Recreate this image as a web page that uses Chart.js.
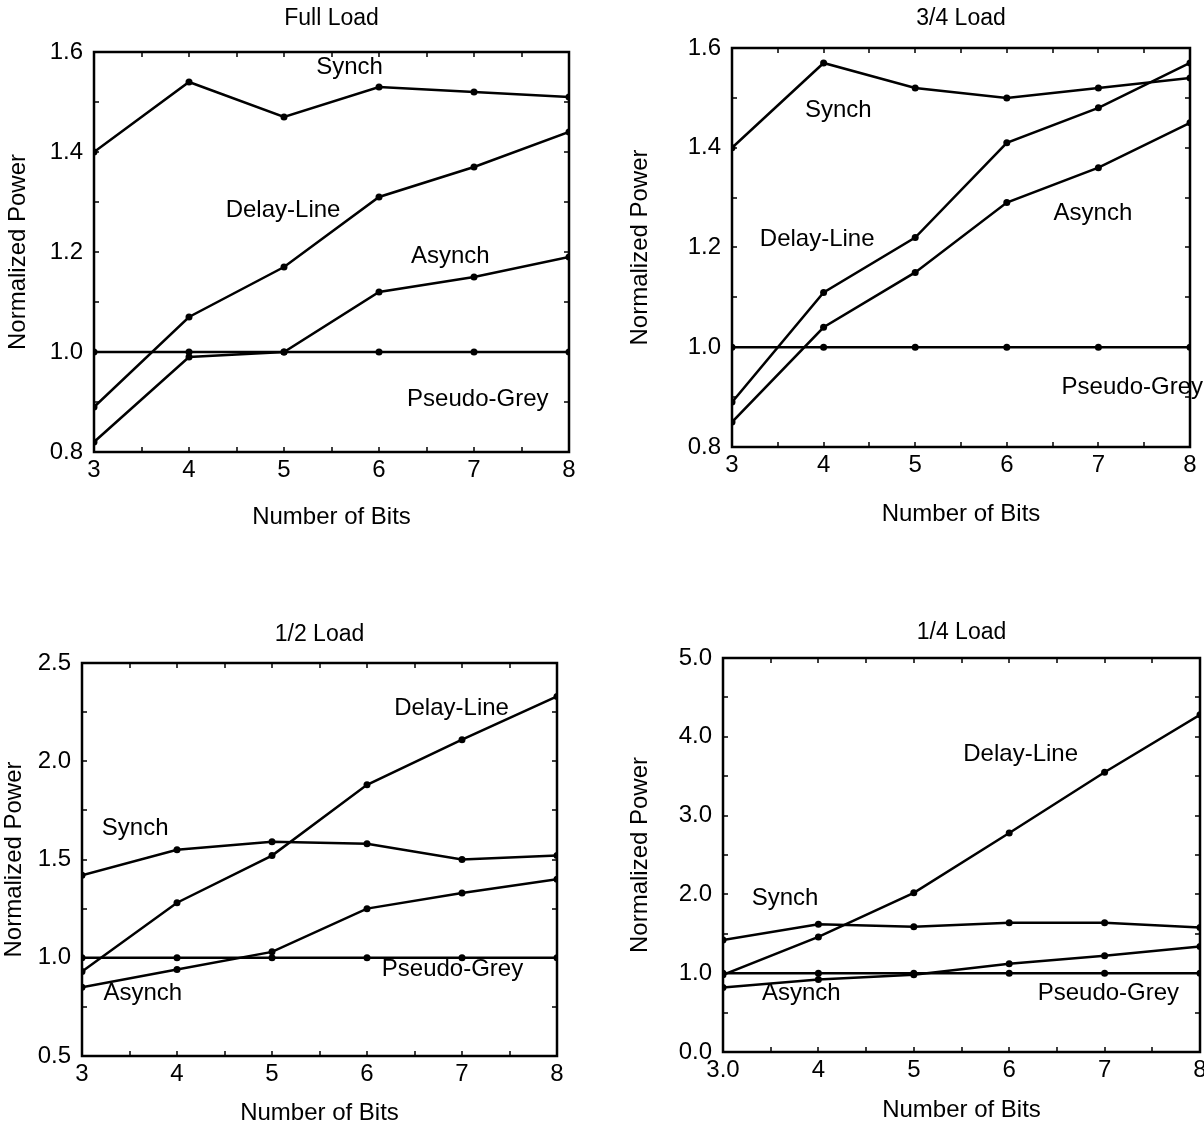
<!DOCTYPE html>
<html>
<head>
<meta charset="utf-8">
<title>Normalized Power vs Number of Bits</title>
<script src="https://cdn.jsdelivr.net/npm/chart.js@4.4.1/dist/chart.umd.min.js"></script>
<style>
  html, body { margin: 0; padding: 0; background: #fff; overflow: hidden; width: 1204px; height: 1129px; }
  canvas { position: absolute; }
</style>
</head>
<body>
<canvas id="fullLoad" width="600" height="560" style="left:0;top:0"></canvas>
<canvas id="threeQuarterLoad" width="602" height="560" style="left:602px;top:0"></canvas>
<canvas id="halfLoad" width="600" height="529" style="left:0;top:600px"></canvas>
<canvas id="quarterLoad" width="620" height="529" style="left:602px;top:600px"></canvas>
<script>
// x values (number of bits) shared by every panel
const bits = [3, 4, 5, 6, 7, 8];
const seriesNames = ['Synch', 'Delay-Line', 'Asynch', 'Pseudo-Grey'];
const xTickLabels = ['3', '4', '5', '6', '7', '8'];
const xTickLabelsQuarter = ['3.0', '4', '5', '6', '7', '8'];

// Full Load
const fullSynch  = [1.40, 1.54, 1.47, 1.53, 1.52, 1.51];
const fullDelay  = [0.89, 1.07, 1.17, 1.31, 1.37, 1.44];
const fullAsynch = [0.82, 0.99, 1.00, 1.12, 1.15, 1.19];
const fullGrey   = [1.00, 1.00, 1.00, 1.00, 1.00, 1.00];
const fullYTicks = [0.8, 1.0, 1.2, 1.4, 1.6];

// 3/4 Load
const tqSynch  = [1.40, 1.57, 1.52, 1.50, 1.52, 1.54];
const tqDelay  = [0.89, 1.11, 1.22, 1.41, 1.48, 1.57];
const tqAsynch = [0.85, 1.04, 1.15, 1.29, 1.36, 1.45];
const tqGrey   = [1.00, 1.00, 1.00, 1.00, 1.00, 1.00];
const tqYTicks = [0.8, 1.0, 1.2, 1.4, 1.6];

// 1/2 Load
const halfSynch  = [1.42, 1.55, 1.59, 1.58, 1.50, 1.52];
const halfDelay  = [0.93, 1.28, 1.52, 1.88, 2.11, 2.33];
const halfAsynch = [0.85, 0.94, 1.03, 1.25, 1.33, 1.40];
const halfGrey   = [1.00, 1.00, 1.00, 1.00, 1.00, 1.00];
const halfYTicks = [0.5, 1.0, 1.5, 2.0, 2.5];

// 1/4 Load
const qSynch  = [1.42, 1.62, 1.59, 1.64, 1.64, 1.58];
const qDelay  = [0.98, 1.46, 2.02, 2.78, 3.55, 4.28];
const qAsynch = [0.82, 0.92, 0.98, 1.12, 1.22, 1.34];
const qGrey   = [1.00, 1.00, 1.00, 1.00, 1.00, 1.00];
const qYTicks = [0.0, 1.0, 2.0, 3.0, 4.0, 5.0];

// where each curve name sits, in data units (same order as seriesNames)
const fullLabelAt = [[5.69, 1.57], [4.99, 1.284], [6.75, 1.192], [7.04, 0.906]];
const tqLabelAt   = [[4.16, 1.474], [3.93, 1.217], [6.94, 1.269], [7.37, 0.919]];
const halfLabelAt = [[3.56, 1.66], [6.89, 2.27], [3.64, 0.82], [6.9, 0.94]];
const qLabelAt    = [[3.65, 1.95], [6.12, 3.78], [3.82, 0.75], [7.04, 0.75]];

Chart.defaults.font.family = "'Liberation Sans', Arial, Helvetica, sans-serif";
Chart.defaults.color = '#000';

// box around the plot + small inward ticks on all four sides
const framePlugin = {
    id: 'frame',
    afterDraw(chart, args, opts) {
        const { ctx, chartArea: a, scales: { x, y } } = chart;
        ctx.save();
        ctx.strokeStyle = '#000';
        ctx.lineWidth = 2.5;
        ctx.strokeRect(a.left, a.top, a.right - a.left, a.bottom - a.top);
        ctx.lineWidth = 1.5;
        ctx.beginPath();
        for (let v = y.min; v <= y.max + 1e-9; v += opts.yStep) {
            const py = Math.round(y.getPixelForValue(v));
            ctx.moveTo(a.left, py); ctx.lineTo(a.left + 5, py);
            ctx.moveTo(a.right, py); ctx.lineTo(a.right - 5, py);
        }
        for (let v = x.min; v <= x.max + 1e-9; v += opts.xStep) {
            const px = Math.round(x.getPixelForValue(v));
            ctx.moveTo(px, a.bottom); ctx.lineTo(px, a.bottom - 5);
            ctx.moveTo(px, a.top); ctx.lineTo(px, a.top + 5);
        }
        ctx.stroke();
        ctx.restore();
    }
};

// curve names written inside the plot
const curveLabelPlugin = {
    id: 'curveLabels',
    afterDatasetsDraw(chart, args, opts) {
        const { ctx, scales: { x, y } } = chart;
        ctx.save();
        ctx.fillStyle = '#000';
        ctx.font = "24px 'Liberation Sans', Arial, sans-serif";
        ctx.textAlign = 'center';
        ctx.textBaseline = 'middle';
        opts.names.forEach((name, i) => {
            const [vx, vy] = opts.at[i];
            ctx.fillText(name, x.getPixelForValue(vx), y.getPixelForValue(vy));
        });
        ctx.restore();
    }
};

function makePanel(id, p) {
    const series = [p.synch, p.delay, p.asynch, p.grey];
    new Chart(document.getElementById(id), {
        type: 'line',
        data: {
            datasets: series.map((vals, i) => ({
                label: seriesNames[i],
                data: bits.map((b, j) => ({ x: b, y: vals[j] })),
                borderColor: '#000', backgroundColor: '#000',
                borderWidth: 2.5, pointRadius: 3.5, pointBorderWidth: 0,
                tension: 0, fill: false
            }))
        },
        options: {
            responsive: false, animation: false, devicePixelRatio: 1,
            layout: { padding: { left: 0, right: p.padRight, top: 0, bottom: 0 } },
            plugins: {
                legend: { display: false },
                tooltip: { enabled: false },
                frame: { yStep: p.yMinor, xStep: 0.5 },
                curveLabels: { names: seriesNames, at: p.labelAt }
            },
            scales: {
                // top axis only carries the panel title, centred over the plot
                top: {
                    type: 'linear', position: 'top', min: 3, max: 8,
                    afterFit: s => { s.height = p.top; },
                    grid: { display: false }, border: { display: false },
                    ticks: { display: false },
                    title: { display: true, text: p.title, font: { size: 23 }, color: '#000', padding: { top: p.titleTop, bottom: 0 } }
                },
                x: {
                    type: 'linear', min: 3, max: 8,
                    afterBuildTicks: s => { s.ticks = bits.map(v => ({ value: v })); },
                    afterFit: s => { s.height = p.xh; },
                    grid: { display: false }, border: { display: false },
                    ticks: { font: { size: 24 }, color: '#000', padding: -4, maxRotation: 0,
                             callback: (v, i) => p.xLabels[i] },
                    title: { display: true, text: 'Number of Bits', font: { size: 24 }, color: '#000', padding: { top: 0, bottom: p.xTitleBottom } }
                },
                y: {
                    type: 'linear', min: p.yTicks[0], max: p.yTicks[p.yTicks.length - 1],
                    afterBuildTicks: s => { s.ticks = p.yTicks.map(v => ({ value: v })); },
                    afterFit: s => { s.width = p.yw; },
                    grid: { display: false }, border: { display: false },
                    ticks: { font: { size: 24 }, color: '#000', padding: 3,
                             callback: v => v.toFixed(1) },
                    title: { display: true, text: 'Normalized Power', font: { size: 24 }, color: '#000', padding: { top: p.yTitleTop, bottom: 0 } }
                }
            }
        },
        plugins: [framePlugin, curveLabelPlugin]
    });
}

makePanel('fullLoad', {
    title: 'Full Load', synch: fullSynch, delay: fullDelay, asynch: fullAsynch, grey: fullGrey,
    yTicks: fullYTicks, yMinor: 0.1, xLabels: xTickLabels, labelAt: fullLabelAt,
    padRight: 31, yw: 94, xh: 108, top: 52, titleTop: 4.4, xTitleBottom: 28.6, yTitleTop: 3.6
});
makePanel('threeQuarterLoad', {
    title: '3/4 Load', synch: tqSynch, delay: tqDelay, asynch: tqAsynch, grey: tqGrey,
    yTicks: tqYTicks, yMinor: 0.1, xLabels: xTickLabels, labelAt: tqLabelAt,
    padRight: 14, yw: 130, xh: 113, top: 48, titleTop: 4.4, xTitleBottom: 31.6, yTitleTop: 23.6
});
makePanel('halfLoad', {
    title: '1/2 Load', synch: halfSynch, delay: halfDelay, asynch: halfAsynch, grey: halfGrey,
    yTicks: halfYTicks, yMinor: 0.25, xLabels: xTickLabels, labelAt: halfLabelAt,
    padRight: 43, yw: 82, xh: 73, top: 63, titleTop: 21.2, xTitleBottom: 1.6, yTitleTop: 0
});
makePanel('quarterLoad', {
    title: '1/4 Load', synch: qSynch, delay: qDelay, asynch: qAsynch, grey: qGrey,
    yTicks: qYTicks, yMinor: 0.5, xLabels: xTickLabelsQuarter, labelAt: qLabelAt,
    padRight: 22, yw: 121, xh: 77, top: 58, titleTop: 19.2, xTitleBottom: 4.6, yTitleTop: 23.6
});
</script>
</body>
</html>
